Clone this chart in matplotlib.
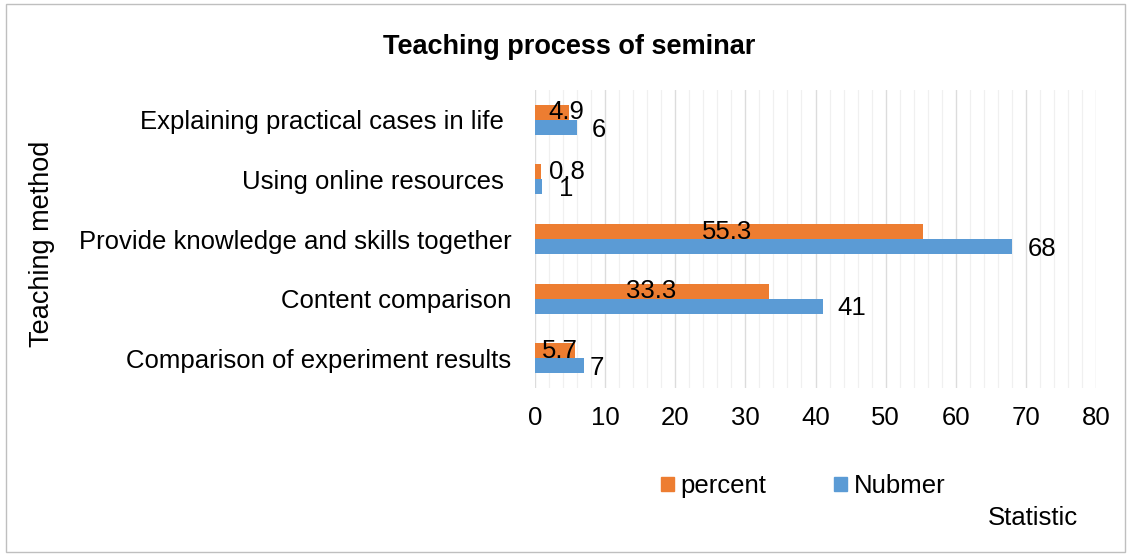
import matplotlib.pyplot as plt
from matplotlib.patches import Rectangle, Patch

plt.rcParams['font.family'] = ['Liberation Sans', 'DejaVu Sans']

methods = ["Comparison of experiment results", "Content comparison",
           "Provide knowledge and skills together", "Using online resources ",
           "Explaining practical cases in life "]
percent = [5.7, 33.3, 55.3, 0.8, 4.9]
number = [7, 41, 68, 1, 6]

# where Excel happened to put the data labels (in data units)
percent_label_x = [3.6, 16.5, 27.4, 4.6, 4.5]
number_label_x = [7.8, 43.1, 70.3, 3.4, 8.1]

orange = "#ED7D31"
blue = "#5B9BD5"
fs = 18.5

fig = plt.figure(figsize=(11.31, 5.56), dpi=100)
ax = fig.add_axes([535 / 1131, 1 - 388 / 556, (1096 - 535) / 1131, (388 - 90) / 556])

y = list(range(len(methods)))
h = 0.25
ax.barh([v + h / 2 for v in y], percent, height=h, color=orange, zorder=3)
ax.barh([v - h / 2 for v in y], number, height=h, color=blue, zorder=3)

for i in y:
    ax.text(percent_label_x[i], i + h / 2, f"{percent[i]}", ha="center", va="center",
            fontsize=fs, zorder=4)
    ax.text(number_label_x[i], i - h / 2 - 0.04, f"{number[i]}", ha="left", va="center",
            fontsize=fs, zorder=4)

ax.set_xlim(0, 80)
ax.set_ylim(-0.5, len(methods) - 0.5)
ax.set_xticks(range(0, 81, 10))
ax.set_xticks(range(0, 81, 2), minor=True)
ax.set_yticks(y)
ax.set_yticklabels(methods)
ax.grid(axis="x", which="major", color="#DCDCDC", linewidth=1.0, zorder=0)
ax.grid(axis="x", which="minor", color="#F0F0F0", linewidth=0.9, zorder=0)
ax.axvline(0, color="#C8C8C8", linewidth=1.2, zorder=1)
ax.tick_params(axis="both", which="both", length=0, labelsize=fs)
ax.tick_params(axis="y", pad=17)
ax.tick_params(axis="x", pad=13)
for s in ax.spines.values():
    s.set_visible(False)

fig.text(569 / 1131, 1 - 47 / 556, "Teaching process of seminar", ha="center", va="center",
         fontsize=19.5, fontweight="bold")
fig.text(42 / 1131, 1 - 244 / 556, "Teaching method", rotation=90, ha="center", va="center",
         fontsize=19.5)
fig.text(1033 / 1131, 1 - 518 / 556, "Statistic", ha="center", va="center", fontsize=fs)

handles = [Patch(color=orange, label="percent"), Patch(color=blue, label="Nubmer")]
fig.legend(handles=handles, loc="center", bbox_to_anchor=(803 / 1131, 1 - 486 / 556),
           ncol=2, frameon=False, fontsize=fs, handlelength=0.5, handleheight=0.5,
           handletextpad=0.25, columnspacing=2.65)

fig.patches.append(Rectangle((6 / 1131, 4 / 556), 1119 / 1131, 548 / 556,
                             transform=fig.transFigure, fill=False,
                             edgecolor="#BFBFBF", linewidth=1))

fig.savefig("out.png", dpi=100)
